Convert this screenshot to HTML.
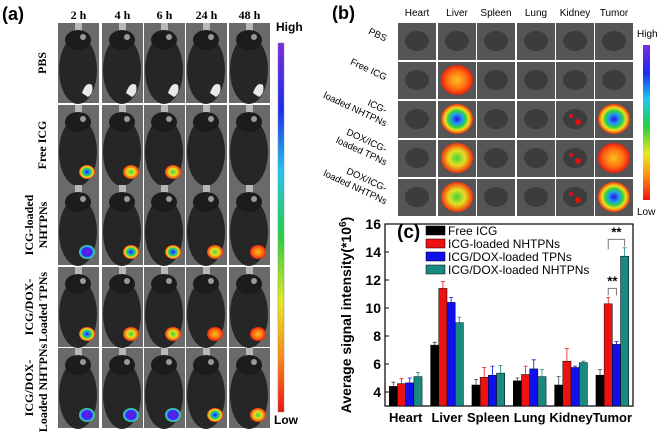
<!DOCTYPE html>
<html><head><meta charset="utf-8"><style>
html,body{margin:0;padding:0;background:#fff;}
svg{display:block;font-family:"Liberation Sans",sans-serif;}
</style></head><body>
<svg id="fig" width="661" height="442" viewBox="0 0 661 442">
<defs>
<linearGradient id="cbar" x1="0" y1="0" x2="0" y2="1">
<stop offset="0" stop-color="#7a2be0"/><stop offset="0.18" stop-color="#1b2cf0"/><stop offset="0.35" stop-color="#20c8f0"/><stop offset="0.52" stop-color="#20d040"/><stop offset="0.7" stop-color="#e8e820"/><stop offset="0.85" stop-color="#ff8a10"/><stop offset="1" stop-color="#f01010"/>
</linearGradient>
<radialGradient id="hot"><stop offset="0" stop-color="#2a10e0"/><stop offset="0.35" stop-color="#20a0f0"/><stop offset="0.55" stop-color="#30d040"/><stop offset="0.75" stop-color="#f0e020"/><stop offset="1" stop-color="#f03010"/></radialGradient>
<radialGradient id="warm"><stop offset="0" stop-color="#40d040"/><stop offset="0.5" stop-color="#e8e020"/><stop offset="1" stop-color="#f03010"/></radialGradient>
<radialGradient id="org"><stop offset="0" stop-color="#f8c020"/><stop offset="0.6" stop-color="#ff7010"/><stop offset="1" stop-color="#e82010"/></radialGradient>
<radialGradient id="purp"><stop offset="0" stop-color="#6a20e8"/><stop offset="0.6" stop-color="#4020f0"/><stop offset="0.85" stop-color="#30c0f0"/><stop offset="1" stop-color="#40d040"/></radialGradient>
</defs>
<g id="panelA"></g>
<g id="panelB"></g>
<g id="panelC"></g>
</svg>
<script>
const NS="http://www.w3.org/2000/svg";
function mk(p,t,a,txt){const e=document.createElementNS(NS,t);for(const k in a)e.setAttribute(k,a[k]);if(txt!==undefined)e.textContent=txt;p.appendChild(e);return e;}

// ---------- Panel A ----------
const A=document.getElementById('panelA');
const aCols=[58,102,144,186,229], aColW=41;
const aRows=[23,105,185,267,348], aRowH=80;
const aTimes=["2 h","4 h","6 h","24 h","48 h"];
const aSig=[[0,0,0,0,0],["hot","warm","warm",0,0],["purp","hot","hot","warm","org"],["hot","warm","warm","org","org"],["purp","purp","purp","hot","warm"]];
let t=mk(A,'text',{x:2,y:20,'font-size':18,'font-weight':'bold'},'(a)');

aTimes.forEach((s,i)=>{const e=mk(A,'text',{x:aCols[i]+aColW/2,y:19,'font-size':12,'font-weight':'bold','text-anchor':'middle','font-family':'Liberation Serif,serif'},s);
});
aRows.forEach((y,r)=>aCols.forEach((x,c)=>{
 const g=mk(A,'g',{});
 
 mk(g,'rect',{x:x,y:y,width:aColW,height:aRowH,fill:'#6a6a6a'});
 mk(g,'rect',{x:x+17,y:y,width:7,height:10,fill:'#b8b8b8'});
 mk(g,'ellipse',{cx:x+20,cy:y+47,rx:19,ry:34,fill:'#262626'});
 mk(g,'ellipse',{cx:x+20,cy:y+17,rx:13,ry:10,fill:'#1c1c1c'});
 mk(g,'circle',{cx:x+25,cy:y+14,r:3,fill:'#999'});
 if(r===0) mk(g,'path',{d:`M${x+24} ${y+70} q4 -12 10 -8 q2 8 -4 12 z`,fill:'#e8e8e8'});
 const s=aSig[r][c];
 if(s) mk(g,'ellipse',{cx:x+29,cy:y+67,rx:8,ry:7,fill:`url(#${s})`});
}));
const aLab=[["PBS"],["Free ICG"],["ICG-loaded","NHTPNs"],["ICG/DOX-","Loaded TPNs"],["ICG/DOX-","Loaded NHTPNs"]];
aLab.forEach((L,r)=>{const cy=aRows[r]+aRowH/2;
 L.forEach((s,k)=>{const x=L.length===1?46:33+k*14;
 const e=mk(A,'text',{x:x,y:cy,'font-size':12,'font-weight':'bold','text-anchor':'middle','font-family':'Liberation Serif,serif',transform:`rotate(-90 ${x} ${cy})`},s);
 });});
let cb=mk(A,'rect',{x:278,y:43,width:6,height:369,fill:'url(#cbar)',stroke:'#888','stroke-width':0.5});

t=mk(A,'text',{x:276,y:31,'font-size':12,'font-weight':'bold'},'High');
t=mk(A,'text',{x:274,y:424,'font-size':12,'font-weight':'bold'},'Low');

// ---------- Panel B ----------
const B=document.getElementById('panelB');
const bCols=[398,438,477,517,556,595], bW=38;
const bRows=[23,62,101,140,179], bH=37;
const bOrg=["Heart","Liver","Spleen","Lung","Kidney","Tumor"];
const bSig=[[0,0,0,0,0,0],[0,"org",0,0,0,0],[0,"hot",0,0,"dots","hot"],[0,"warm",0,0,"dots","org"],[0,"warm",0,0,"dots","hot"]];
t=mk(B,'text',{x:332,y:19,'font-size':18,'font-weight':'bold'},'(b)');
bOrg.forEach((s,i)=>{const e=mk(B,'text',{x:bCols[i]+bW/2,y:16,'font-size':10,'text-anchor':'middle'},s);});
bRows.forEach((y,r)=>bCols.forEach((x,c)=>{
 const g=mk(B,'g',{});
 mk(g,'rect',{x:x,y:y,width:bW,height:bH,fill:'#555'});
 mk(g,'ellipse',{cx:x+19,cy:y+18,rx:12,ry:10,fill:'#3c3c3c'});
 const s=bSig[r][c];
 if(s==='dots'){mk(g,'circle',{cx:x+15,cy:y+15,r:2,fill:'#e01010'});mk(g,'circle',{cx:x+22,cy:y+21,r:3,fill:'#e01010'});}
 else if(s) mk(g,'ellipse',{cx:x+19,cy:y+18,rx:16,ry:15,fill:`url(#${s})`});
}));
const bLab=[["PBS"],["Free ICG"],["ICG-","loaded NHTPNs"],["DOX/ICG-","loaded TPNs"],["DOX/ICG-","loaded NHTPNs"]];
bLab.forEach((L,r)=>{const cy=bRows[r]+bH/2;
 L.forEach((s,k)=>{const y=cy-(L.length-1)*6+k*13;const x=385;
 const e=mk(B,'text',{x:x,y:y,'font-size':9.5,'text-anchor':'end',transform:`rotate(25 ${x} ${y})`},s);
 });});
cb=mk(B,'rect',{x:643,y:45,width:7,height:155,fill:'url(#cbar)'});
t=mk(B,'text',{x:637,y:37,'font-size':10},'High');
t=mk(B,'text',{x:637,y:215,'font-size':10},'Low');

// ---------- Panel C chart ----------
const categories=["Heart","Liver","Spleen","Lung","Kidney","Tumor"];
const seriesNames=["Free ICG","ICG-loaded NHTPNs","ICG/DOX-loaded TPNs","ICG/DOX-loaded NHTPNs"];
const freeICG=[4.4,7.35,4.5,4.8,4.5,5.2];
const nhtpns=[4.6,11.4,5.05,5.25,6.2,10.3];
const doxTPNs=[4.65,10.4,5.2,5.65,5.75,7.4];
const doxNHTPNs=[5.1,8.95,5.35,5.1,6.1,13.7];
const errFree=[0.3,0.2,0.4,0.2,0.6,0.4];
const errNH=[0.35,0.5,0.7,0.6,0.9,0.45];
const errTPN=[0.35,0.35,0.65,0.65,0.1,0.2];
const errDNH=[0.3,0.4,0.55,0.5,0.1,0.6];
const yTicks=[4,6,8,10,12,14,16];
const colors=["#000000","#ee1111","#1010ee","#1a8a80"];

const C=document.getElementById('panelC');
const X0=385,X1=633,Y0=406,Y1=224,yMin=3,yMax=16;
const yS=v=>Y0-(v-yMin)/(yMax-yMin)*(Y0-Y1);
const step=(X1-X0)/categories.length;
const xC=i=>X0+step*(i+0.5);
const bw=8.2;
let fr=mk(C,'rect',{x:X0,y:Y1,width:X1-X0,height:Y0-Y1,fill:'none',stroke:'#000','stroke-width':1.2});

yTicks.forEach(v=>{const y=yS(v);
 const l=mk(C,'line',{x1:X0,x2:X0+4,y1:y,y2:y,stroke:'#000'});
 const e=mk(C,'text',{x:X0-4,y:y+5,'font-size':14,'font-weight':'bold','text-anchor':'end'},v);});
categories.forEach((c,i)=>{const e=mk(C,'text',{x:xC(i),y:Y0+16,'font-size':13,'font-weight':'bold','text-anchor':'middle'},c);
 });
const series=[freeICG,nhtpns,doxTPNs,doxNHTPNs], errs=[errFree,errNH,errTPN,errDNH];
series.forEach((arr,s)=>arr.forEach((v,i)=>{
 const x=xC(i)+(s-2)*bw;
 const b=mk(C,'rect',{x:x,y:yS(v),width:bw,height:Y0-yS(v),fill:colors[s],stroke:'#000','stroke-width':0.5});
 
 const ey=yS(v+errs[s][i]);
 const eb=mk(C,'path',{d:`M${x+bw/2} ${yS(v)}V${ey}M${x+bw/2-2} ${ey}H${x+bw/2+2}`,stroke:colors[s]==="#000000"?'#444':colors[s],'stroke-width':0.8,fill:'none'});
 
}));
const ti=5;
let br=mk(C,'path',{d:`M${xC(ti)-bw/2} ${yS(10.9)}V${yS(11.4)}H${xC(ti)+bw/2}V${yS(10.9)}`,stroke:'#777',fill:'none'});

t=mk(C,'text',{x:xC(ti),y:yS(11.6),'font-size':13,'font-weight':'bold','text-anchor':'middle'},'**');
br=mk(C,'path',{d:`M${xC(ti)-bw*0.5} ${yS(14.2)}V${yS(14.9)}H${xC(ti)+bw*1.5}V${yS(14.4)}`,stroke:'#777',fill:'none'});

t=mk(C,'text',{x:xC(ti)+bw*0.5,y:yS(15.1),'font-size':13,'font-weight':'bold','text-anchor':'middle'},'**');
seriesNames.forEach((n,s)=>{const y=231+s*13;
 const g=mk(C,'g',{});
 mk(g,'rect',{x:426,y:y-5,width:19,height:9,fill:colors[s],stroke:'#000','stroke-width':0.5});
 mk(g,'text',{x:448,y:y+4,'font-size':12},n);});
t=mk(C,'text',{x:397,y:238,'font-size':19,'font-weight':'bold'},'(c)');
t=mk(C,'text',{x:351,y:315,'font-size':14,'font-weight':'bold','text-anchor':'middle',transform:'rotate(-90 351 315)'},'Average signal intensity(*10');

mk(t,'tspan',{'font-size':10,dy:-5},'6');
mk(t,'tspan',{dy:5},')');
</script>
</body></html>
